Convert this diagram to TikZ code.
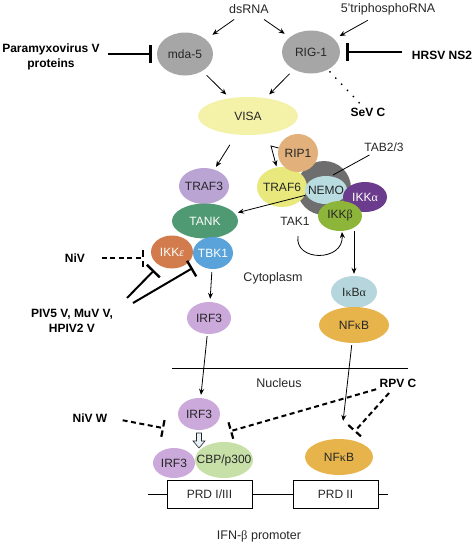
\documentclass[tikz,border=0pt]{standalone}
\usepackage{fontspec}
\setmainfont{Liberation Sans}
\newfontfamily\grk{Liberation Serif}
\usetikzlibrary{arrows.meta,calc,shapes.geometric}
\definecolor{cGray}{HTML}{A6A6A6}
\definecolor{cVisa}{HTML}{F4F1A8}
\definecolor{cTraf3}{HTML}{B9A4D4}
\definecolor{cTank}{HTML}{4F9A72}
\definecolor{cIkke}{HTML}{D27C4D}
\definecolor{cTbk}{HTML}{5AA2DA}
\definecolor{cIrf}{HTML}{CBA9DA}
\definecolor{cRip}{HTML}{E1B07B}
\definecolor{cTraf6}{HTML}{E8E87C}
\definecolor{cTak}{HTML}{6E6E6E}
\definecolor{cNemo}{HTML}{B8DCDF}
\definecolor{cIkka}{HTML}{6B3B8D}
\definecolor{cIkkb}{HTML}{8DB53A}
\definecolor{cIkba}{HTML}{B6D6DD}
\definecolor{cNfkb}{HTML}{E6B44B}
\definecolor{cCbp}{HTML}{C6E0A8}
\definecolor{cTxt}{HTML}{262626}
\definecolor{cHollow}{HTML}{E6F2F7}
\newcommand{\zb}[1]{\makebox[0pt]{#1}}
\newcommand{\dbar}[2]{\draw[dbarst] ($(#1)!9pt!90:(#2)$) -- ($(#1)!9pt!-90:(#2)$);}
\begin{document}
\begin{tikzpicture}[x=1pt,y=-1pt,
  every node/.style={font=\fontsize{12}{14}\selectfont, text=cTxt},
  E/.style n args={3}{ellipse, inner sep=0pt, minimum width=#1pt, minimum height=#2pt, fill=#3},
  lab/.style={font=\fontsize{12.5}{14}\selectfont},
  bold/.style={font=\bfseries\fontsize{12}{14.5}\selectfont, text=black, align=center},
  arr/.style={-{Stealth[length=6pt,width=5pt]}, line width=0.8pt},
  inh/.style={-{Bar[width=18pt,line width=2.4pt]}, line width=2pt},
  dinh/.style={line width=2pt, dash pattern=on 5pt off 3.5pt},
  dbarst/.style={line width=2.2pt, dash pattern=on 6.5pt off 4pt},
  dotline/.style={line width=2pt, line cap=round, dash pattern=on 0pt off 8.5pt},
]
\useasboundingbox (0,0) rectangle (474,544);

% ---- receptors ----
\node[lab] (ds) at (249,9) {dsRNA};
\node[lab] (tri) at (388,9) {5’triphosphoRNA};
\node[E={56}{43}{cGray}] (mda5) at (185,54) {\zb{mda-5}};
\node[E={58}{43}{cGray}] (rig) at (311,52) {\zb{RIG-1}};
\node[bold] (para) at (51,57) {Paramyxovirus V\\proteins};
\node[bold] (hrsv) at (442,55) {HRSV NS2};
\node[E={100}{38}{cVisa}] (visa) at (248,116) {\zb{VISA}};
\node[bold] (sevc) at (368,112) {SeV C};

\draw[arr, shorten <=4pt, shorten >=8pt] (ds) -- (mda5);
\draw[arr, shorten <=4pt, shorten >=6pt] (ds) -- (rig);
\draw[arr, shorten <=4pt, shorten >=6pt] (tri) -- (rig);
\draw[inh, shorten <=5pt, shorten >=5pt] (para.east |- mda5.west) -- (mda5.west);
\draw[inh, shorten <=6pt, shorten >=6pt] (hrsv.west |- rig.east) -- (rig.east);
\draw[arr, shorten <=6pt, shorten >=5pt] (mda5) -- (visa);
\draw[arr, shorten <=6pt, shorten >=5pt] (rig) -- (visa);
\draw[dotline, shorten <=3pt, shorten >=2pt] (rig) -- (sevc);

% ---- TRAF3 / TANK / TBK1 branch ----
\node[E={50}{36}{cTraf3}] (traf3) at (204,186) {\zb{TRAF3}};
\node[E={66}{35}{cTank}] (tank) at (205,221) {\zb{\textcolor{white}{TANK}}};
\node[E={42}{33}{cIkke}] (ikke) at (172,252) {\zb{\textcolor{white}{IKK{\grk\itshape ε}}}};
\node[E={40}{32}{cTbk}] (tbk1) at (213,253) {\zb{\textcolor{white}{TBK1}}};
\node[E={44}{32}{cIrf}] (irf3a) at (209,318) {\zb{IRF3}};
\draw[arr, shorten <=12pt, shorten >=3pt] (visa) -- (traf3);
\draw[arr, shorten <=3pt, shorten >=3pt] (tbk1) -- (irf3a);

\node[bold] (niv) at (75,258) {NiV};
\coordinate (nivE) at (143,258);
\draw[dinh, shorten <=13pt] (niv.center) ++(0,0) (niv) -- (nivE);
\dbar{nivE}{niv}

\node[bold] (piv) at (72,321) {PIV5 V, MuV V,\\HPIV2 V};
\coordinate (p1) at (127,298);
\coordinate (p2) at (133,303);
\draw[inh, shorten >=7pt] (p1) -- (ikke);
\draw[inh, shorten >=7pt] (p2) -- (tbk1.south west);

% ---- TRAF6 / IKK complex ----
\node[circle, fill=cTak, minimum size=54pt, inner sep=0pt] (tak) at (324,188) {};
\node[E={50}{40}{cTraf6}] (traf6) at (282,187) {\zb{TRAF6}};
\node[E={40}{38}{cRip}] (rip1) at (298,153) {\zb{RIP1}};
\node[E={42}{28}{cNemo}] (nemo) at (326,190) {\zb{NEMO}};
\node[E={44}{30}{cIkka}] (ikka) at (365,197) {\zb{\textcolor{white}{IKK{\grk α}}}};
\node[E={44}{30}{cIkkb}] (ikkb) at (340,216) {\zb{IKK{\grk β}}};
\node (tak1) at (295,221) {TAK1};
\node (tab) at (384,147) {TAB2/3};
\coordinate (tabE) at (333,175);
\draw[line width=0.8pt] (tab) -- (tabE);

\coordinate (bend) at (271,146);
\draw[arr, shorten >=1pt] (rip1) -- (bend) -- (traf6);
\draw[arr, shorten <=1pt, shorten >=3pt] (nemo) -- (tank);

\coordinate (c1) at (298,236);
\coordinate (c2) at (342,232);
\draw[arr] (c1) .. controls (294,262) and (344,262) .. (c2);

\node[E={46}{32}{cIkba}] (ikba) at (354,292) {\zb{I{\grk κ}B{\grk α}}};
\node[E={70}{36}{cNfkb}] (nfkb1) at (354,325) {\zb{NF{\grk κ}B}};
\draw[arr, shorten >=2pt] (ikkb.south -| ikba.north) -- (ikba.north);

\node[lab] (cyto) at (273,278) {Cytoplasm};

% ---- nucleus ----
\coordinate (m1) at (172,368);
\coordinate (m2) at (408,368);
\draw[line width=0.8pt] (m1) -- (m2);
\node[lab] (nuc) at (279,383) {Nucleus};
\node[bold] (rpv) at (398,383) {RPV C};
\node[bold] (nivw) at (90,418) {NiV W};

\node[E={42}{32}{cIrf}] (irf3b) at (199,414) {\zb{IRF3}};
\node[E={42}{30}{cIrf}] (irf3c) at (174,463) {\zb{IRF3}};
\node[E={58}{36}{cCbp}] (cbp) at (224,460) {\zb{CBP/p300}};
\node[E={68}{36}{cNfkb}] (nfkb2) at (339,457) {\zb{NF{\grk κ}B}};

\draw[arr, shorten <=2pt, shorten >=3pt] (irf3a) -- (irf3b);
\draw[arr, shorten <=2pt, shorten >=18pt] (nfkb1) -- (nfkb2);

\draw[fill=cHollow, line width=0.6pt, draw=cTxt]
  (196.5,433) -- (201.5,433) -- (201.5,441) -- (205,441) -- (199,448) -- (193,441) -- (196.5,441) -- cycle;

\coordinate (nwE) at (163,428);
\draw[dinh, shorten <=12pt] (nivw.east) -- (nwE);
\dbar{nwE}{nivw.east}

\coordinate (rpE1) at (231,431);
\coordinate (rpE2) at (355,431);
\draw[dinh] (rpv) -- (rpE1);
\dbar{rpE1}{rpv}
\draw[dinh, shorten <=3pt] (rpv) -- (rpE2);
\dbar{rpE2}{rpv}

% ---- promoter ----
\node[draw, line width=1pt, minimum width=85pt, minimum height=28pt, inner sep=0pt] (prd1) at (209.5,494) {PRD I/III};
\node[draw, line width=1pt, minimum width=85pt, minimum height=28pt, inner sep=0pt] (prd2) at (335.5,494) {PRD II};
\coordinate (pl) at (148,494);
\coordinate (pr) at (388,494);
\draw[line width=1pt] (pl) -- (prd1.west);
\draw[line width=1pt] (prd1.east) -- (prd2.west);
\draw[line width=1pt] (prd2.east) -- (pr);
\node[lab] (ifn) at (259,536) {IFN-{\grk β} promoter};
\end{tikzpicture}
\end{document}
